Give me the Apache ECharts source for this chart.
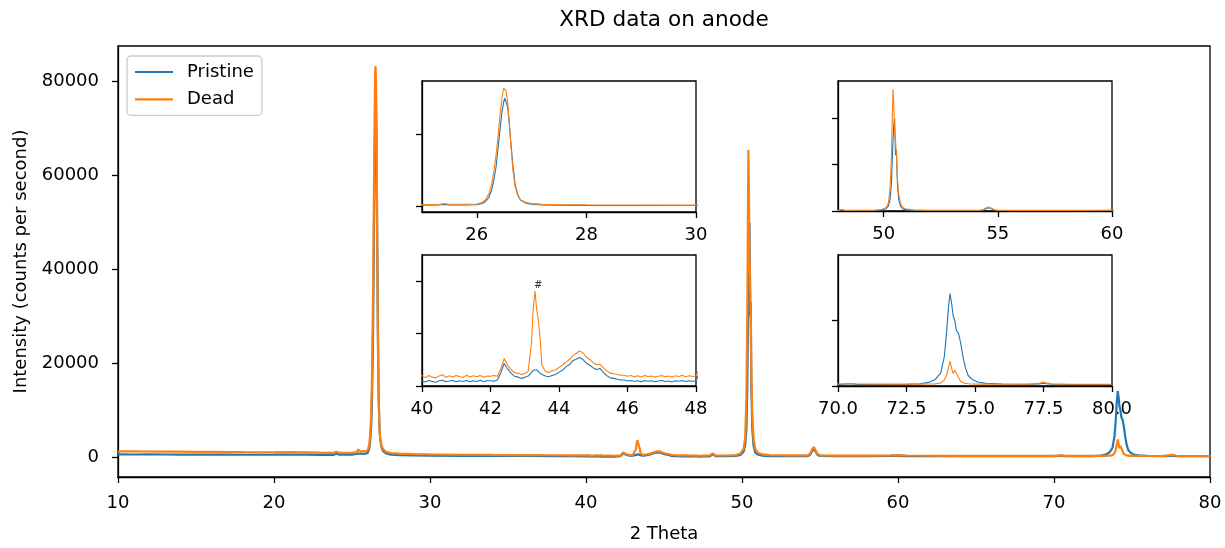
<!DOCTYPE html>
<html>
<head>
<meta charset="utf-8">
<script src="https://cdn.jsdelivr.net/npm/echarts@6.0.0/dist/echarts.min.js"></script>
<style>
  html, body { margin: 0; padding: 0; background: #fff; }
  #chart { width: 1225px; height: 548px; }
</style>
</head>
<body>
<div id="chart"></div>
<script>
// 2 theta positions (deg)
const twoTheta = [
  10, 11, 12, 13, 14, 15, 16, 17, 18, 19,
  20, 21, 22, 23, 23.8, 24, 24.2, 25, 25.3, 25.4,
  25.5, 25.8,
  26.0, 26.1, 26.16, 26.22, 26.27, 26.31, 26.35, 26.39, 26.43, 26.46,
  26.49, 26.51, 26.53, 26.56, 26.59, 26.62, 26.66, 26.7, 26.75, 26.8,
  26.9, 27.0, 27.2, 27.5,
  28, 29, 30, 32, 34, 36, 38, 39,
  40.0, 40.1, 40.2, 40.3, 40.4, 40.5, 40.6, 40.7, 40.8, 40.9,
  41.0, 41.1, 41.2, 41.3, 41.4, 41.5, 41.6, 41.7, 41.8, 41.9,
  42.0, 42.1, 42.2, 42.3, 42.4, 42.5, 42.6, 42.7, 42.8, 42.9,
  43.0, 43.1, 43.2, 43.25, 43.3, 43.35, 43.4, 43.45, 43.5, 43.6,
  43.7, 43.8, 43.9, 44.0, 44.1, 44.2, 44.3, 44.4, 44.5, 44.6,
  44.7, 44.8, 44.9, 45.0, 45.1, 45.2, 45.3, 45.4, 45.5, 45.6,
  45.7, 45.8, 45.9, 46.0, 46.1, 46.2, 46.3, 46.4, 46.5, 46.6,
  46.7, 46.8, 46.9, 47.0, 47.1, 47.2, 47.3, 47.4, 47.5, 47.6,
  47.7, 47.8, 47.9, 48.0, 48.15, 48.3, 49.0, 49.6, 49.9, 50.1,
  50.2, 50.28, 50.34, 50.38, 50.41, 50.44, 50.48, 50.52, 50.56, 50.6,
  50.66, 50.74, 50.85, 51.0, 51.3, 51.8, 53.0, 54.2, 54.35, 54.5,
  54.6, 54.7, 54.85, 55.0, 56.0, 58.0, 59.5, 60.0, 60.6, 62.0,
  64.0, 66.0, 68.0, 70.0, 70.5, 70.7, 72.0, 72.5, 73.0, 73.3,
  73.55, 73.75, 73.88, 73.96, 74.03, 74.09, 74.15, 74.2, 74.26, 74.32,
  74.4, 74.48, 74.56, 74.65, 74.75, 74.9, 75.1, 75.4, 76.0, 77.0,
  77.35, 77.47, 77.6, 77.8, 78.5, 80.0
];

// intensity, counts per second
const pristine = [
  600, 590, 600, 590, 580, 570, 560, 550, 540, 540,
  550, 580, 550, 520, 520, 750, 540, 560, 700, 1100,
  800, 700,
  900, 1800, 3200, 6000, 11000, 18000, 27000, 41000, 56000, 66000,
  73000, 75500, 75000, 70000, 59000, 45000, 28000, 15000, 7500, 4000,
  2000, 1300, 800, 550,
  450, 380, 350, 320, 300, 280, 250, 220,
  200, 150, 210, 170, 140, 200, 220, 160, 190, 210,
  160, 200, 170, 210, 160, 200, 170, 220, 160, 200,
  200, 180, 230, 500, 860, 650, 490, 370, 340, 290,
  330, 380, 520, 600, 670, 620, 560, 480, 420, 380,
  350, 400, 440, 530, 600, 730, 810, 960, 1020, 1090,
  1010, 870, 790, 690, 630, 670, 510, 390, 310, 290,
  260, 230, 230, 190, 210, 170, 200, 160, 210, 180,
  200, 160, 190, 210, 170, 190, 150, 200, 180, 210,
  170, 200, 180, 200, 650, 220, 230, 300, 500, 1200,
  2500, 6000, 15000, 28000, 38000, 46000, 50000, 30000, 33000, 15000,
  6000, 2500, 1000, 600, 350, 260, 240, 260, 500, 1300,
  1800, 1300, 500, 280, 240, 240, 280, 300, 260, 230,
  220, 220, 220, 230, 340, 230, 230, 250, 350, 550,
  1000, 2000, 4500, 8000, 12000, 14100, 12500, 10800, 10000, 8500,
  8000, 6500, 4500, 2800, 1600, 1000, 600, 400, 300, 260,
  300, 420, 350, 260, 240, 230
];

const dead = [
  1250, 1240, 1230, 1210, 1200, 1170, 1140, 1110, 1080, 1060,
  1070, 1120, 1060, 980, 930, 1150, 950, 950, 1100, 1700,
  1250, 1250,
  1400, 2600, 4500, 8500, 15000, 24000, 35000, 50000, 66000, 76000,
  82500, 83300, 81000, 74000, 60000, 43000, 25000, 13500, 7000, 4200,
  2400, 1700, 1150, 900,
  760, 660, 600, 540, 500, 470, 430, 400,
  390, 320, 400, 340, 310, 380, 430, 330, 390, 340,
  400, 350, 330, 410, 340, 390, 350, 400, 330, 380,
  370, 400, 370, 650, 1050, 800, 630, 510, 490, 440,
  480, 560, 1700, 3000, 3620, 2900, 2500, 1800, 800, 560,
  510, 580, 610, 710, 800, 910, 1000, 1160, 1240, 1340,
  1260, 1100, 1010, 890, 810, 830, 690, 570, 490, 470,
  440, 410, 410, 370, 400, 350, 390, 340, 400, 360,
  380, 340, 370, 400, 350, 380, 330, 390, 360, 410,
  350, 390, 360, 380, 800, 380, 380, 460, 800, 1800,
  4000, 12000, 30000, 52000, 65500, 58000, 42000, 38000, 30000, 18000,
  9000, 4000, 1800, 1000, 600, 450, 400, 420, 700, 1700,
  2200, 1600, 700, 420, 360, 350, 420, 450, 380, 330,
  320, 310, 300, 300, 380, 300, 290, 290, 290, 300,
  330, 450, 900, 1600, 2800, 3800, 2700, 1900, 2400, 2300,
  1300, 700, 500, 400, 350, 310, 290, 280, 270, 280,
  400, 620, 500, 330, 270, 260
];

// x ranges and tick values: main plot then the four insets
const xRanges = [[10, 80], [25, 30], [40, 48], [48, 60], [70, 80]];
const xTicks = [
  [10, 20, 30, 40, 50, 60, 70, 80],
  [26, 28, 30],
  [40, 42, 44, 46, 48],
  [50, 55, 60],
  [70, 72.5, 75, 77.5, 80]
];
const yRanges = [[-4200, 87600], [-4200, 87600], [0, 5000], [0, 70000], [0, 20000]];
const yTicks = [
  [0, 20000, 40000, 60000, 80000],
  [0, 50000],
  [0, 2000, 4000],
  [0, 25000, 50000],
  [0, 10000]
];
// the '#' mark over the 43.3 peak in the second inset
const hashMark = [[43.39, 3830]];

const pristineData = twoTheta.map((t, i) => [t, pristine[i]]);
const deadData = twoTheta.map((t, i) => [t, dead[i]]);

const BLUE = '#1f77b4';
const ORANGE = '#ff7f0e';
const FONT = 'DejaVu Sans';

const grids = [
  { left: 118, top: 46, width: 1092, height: 437 },
  { left: 422, top: 81, width: 274, height: 131 },
  { left: 422, top: 255, width: 274, height: 131 },
  { left: 838, top: 81, width: 274, height: 130 },
  { left: 838, top: 255, width: 274, height: 131 }
].map(g => Object.assign(g, { show: true, borderColor: '#000', borderWidth: 1.3, containLabel: false }));

const xAxes = xRanges.map((r, i) => ({
  type: 'value',
  gridIndex: i,
  min: r[0],
  max: r[1],
  axisLine: { show: true, onZero: false, lineStyle: { color: '#000', width: 1.3 } },
  axisTick: { show: true, length: 6, customValues: xTicks[i], lineStyle: { color: '#000', width: 1.3 } },
  axisLabel: {
    show: true,
    customValues: xTicks[i],
    color: '#000',
    fontSize: 18,
    fontFamily: FONT,
    margin: i === 0 ? 17 : 14,
    formatter: v => (i === 4 ? v.toFixed(1) : String(v))
  },
  splitLine: { show: false },
  name: i === 0 ? '2 Theta' : '',
  nameLocation: 'middle',
  nameGap: 48,
  nameTextStyle: { color: '#000', fontSize: 18, fontFamily: FONT }
}));

const yAxes = yRanges.map((r, i) => ({
  type: 'value',
  gridIndex: i,
  min: r[0],
  max: r[1],
  axisLine: { show: true, onZero: false, lineStyle: { color: '#000', width: 1.3 } },
  axisTick: { show: true, length: 6, customValues: yTicks[i], lineStyle: { color: '#000', width: 1.3 } },
  axisLabel: {
    show: i === 0,
    customValues: yTicks[i],
    color: '#000',
    fontSize: 18,
    fontFamily: FONT,
    margin: 19,
    formatter: v => String(v)
  },
  splitLine: { show: false },
  name: i === 0 ? 'Intensity (counts per second)' : '',
  nameLocation: 'middle',
  nameGap: 88,
  nameTextStyle: { color: '#000', fontSize: 18, fontFamily: FONT }
}));

const series = [];
for (let i = 0; i < grids.length; i++) {
  const w = i === 0 ? 2.2 : 1.1;
  series.push({
    name: 'Pristine', type: 'line', xAxisIndex: i, yAxisIndex: i,
    data: pristineData, symbol: 'none', showSymbol: false, clip: true,
    lineStyle: { color: BLUE, width: w }, itemStyle: { color: BLUE }
  });
  series.push({
    name: 'Dead', type: 'line', xAxisIndex: i, yAxisIndex: i,
    data: deadData, symbol: 'none', showSymbol: false, clip: true,
    lineStyle: { color: ORANGE, width: w }, itemStyle: { color: ORANGE }
  });
}
series.push({
  name: 'mark', type: 'scatter', xAxisIndex: 2, yAxisIndex: 2,
  data: hashMark, symbolSize: 0, silent: true,
  label: { show: true, position: 'inside', formatter: '#', color: '#000', fontSize: 10, fontFamily: FONT }
});

const chart = echarts.init(document.getElementById('chart'));
chart.setOption({
  animation: false,
  backgroundColor: '#fff',
  title: {
    text: 'XRD data on anode',
    left: 664,
    top: 9,
    padding: 0,
    textAlign: 'center',
    textStyle: { color: '#000', fontSize: 21.6, fontWeight: 'normal', fontFamily: FONT }
  },
  legend: {
    data: ['Pristine', 'Dead'],
    orient: 'vertical',
    left: 127,
    top: 56,
    padding: [7, 8, 7, 8],
    itemWidth: 38,
    itemHeight: 18,
    itemGap: 9.3,
    // plain short line as the key, like matplotlib
    icon: 'path://M0,0h0.1v0.1h-0.1zM0,7.9h38v2.2h-38zM37.9,17.9h0.1v0.1h-0.1z',
    backgroundColor: 'rgba(255,255,255,0.8)',
    borderColor: '#cccccc',
    borderWidth: 1.3,
    borderRadius: 4,
    textStyle: { color: '#000', fontSize: 18, fontFamily: FONT, padding: [0, 0, 0, 9] }
  },
  grid: grids,
  xAxis: xAxes,
  yAxis: yAxes,
  series: series
});
</script>
</body>
</html>
